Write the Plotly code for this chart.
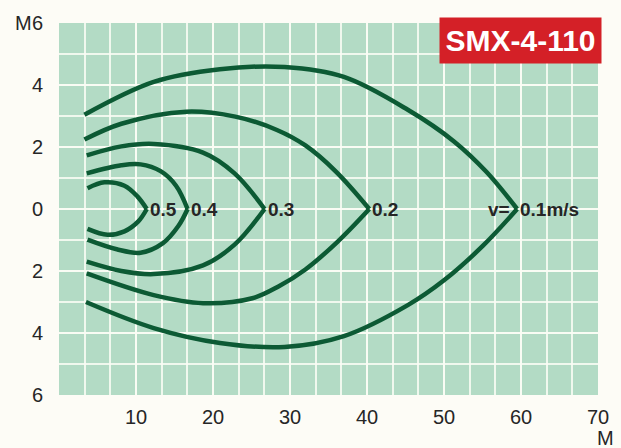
import plotly.graph_objects as go

# Throw-pattern envelopes for SMX-4-110: terminal air velocity contours (m/s)
velocities = ["0.1", "0.2", "0.3", "0.4", "0.5"]

# upper halves (distance M, lateral spread M)
upper_x = {
    "0.1": [3.3, 12.3, 20.9, 29.3, 37.0, 45.3, 51.3, 55.5, 59.5],
    "0.2": [3.3, 8.1, 16.5, 22.9, 28.3, 32.0, 36.0, 40.3],
    "0.3": [3.6, 8.1, 12.3, 18.7, 22.8, 26.7],
    "0.4": [3.6, 8.1, 10.6, 13.2, 15.2, 16.7],
    "0.5": [3.7, 5.9, 8.5, 10.2, 11.4],
}
upper_y = {
    "0.1": [3.04, 4.10, 4.51, 4.58, 4.26, 3.20, 2.18, 1.20, 0.0],
    "0.2": [2.24, 2.75, 3.14, 2.98, 2.55, 2.05, 1.20, 0.0],
    "0.3": [1.73, 2.02, 2.10, 1.82, 1.15, 0.0],
    "0.4": [1.15, 1.41, 1.44, 1.22, 0.75, 0.0],
    "0.5": [0.67, 0.86, 0.75, 0.40, 0.0],
}
# lower halves
lower_x = {
    "0.1": [3.5, 12.3, 20.9, 29.3, 37.0, 45.3, 50.0, 55.0, 59.5],
    "0.2": [3.6, 12.3, 18.7, 25.1, 28.5, 32.0, 36.2, 40.3],
    "0.3": [3.6, 8.1, 12.3, 18.7, 22.8, 26.7],
    "0.4": [3.7, 7.5, 10.6, 13.5, 15.5, 16.7],
    "0.5": [3.7, 6.3, 8.5, 10.3, 11.4],
}
lower_y = {
    "0.1": [-3.00, -3.84, -4.32, -4.45, -4.10, -3.10, -2.30, -1.20, 0.0],
    "0.2": [-2.08, -2.78, -3.04, -2.88, -2.50, -1.95, -1.05, 0.0],
    "0.3": [-1.70, -2.00, -2.10, -1.82, -1.15, 0.0],
    "0.4": [-0.99, -1.30, -1.41, -1.10, -0.55, 0.0],
    "0.5": [-0.64, -0.83, -0.72, -0.40, 0.0],
}

x_ticks = [10, 20, 30, 40, 50, 60, 70]
y_ticks = [-6, -4, -2, 0, 2, 4, 6]
y_tick_text = ["6", "4", "2", "0", "2", "4", "6"]

CURVE = "#0c5a34"
TEXT = "#262626"
FONT = "Liberation Sans, Arial, sans-serif"

fig = go.Figure()
for v in velocities:
    for xs, ys in ((upper_x[v], upper_y[v]), (lower_x[v], lower_y[v])):
        fig.add_trace(go.Scatter(
            x=xs, y=ys, mode="lines",
            line=dict(color=CURVE, width=4.5, shape="spline", smoothing=1.0),
            hoverinfo="skip", showlegend=False,
        ))

# velocity labels at each tip
for v in velocities:
    tip = upper_x[v][-1]
    text = v + "m/s" if v == "0.1" else v
    fig.add_annotation(x=tip, y=0, text="<b>" + text + "</b>", showarrow=False,
                       xanchor="left", yanchor="middle", xshift=1,
                       font=dict(family=FONT, size=19, color=TEXT))
fig.add_annotation(x=upper_x["0.1"][-1], y=0, text="<b>v=</b>", showarrow=False,
                   xanchor="right", yanchor="middle", xshift=-5,
                   font=dict(family=FONT, size=19, color=TEXT))

# model badge
fig.add_annotation(xref="paper", yref="paper", x=0.856, y=0.953,
                   text="<b>SMX-4-110</b>", showarrow=False,
                   xanchor="center", yanchor="middle",
                   width=161, height=45, borderpad=0,
                   bgcolor="#d42027",
                   font=dict(family=FONT, size=30, color="white"))

# unit labels
fig.add_annotation(xref="paper", yref="paper", x=-0.058, y=1.0, text="M",
                   showarrow=False, xanchor="right", yanchor="middle", xshift=6,
                   font=dict(family=FONT, size=20, color=TEXT))
fig.add_annotation(xref="paper", yref="paper", x=1.007, y=-0.115, text="M",
                   showarrow=False, xanchor="center", yanchor="middle", xshift=4,
                   font=dict(family=FONT, size=20, color=TEXT))

GRID = "rgba(250,253,245,0.85)"
fig.update_layout(
    width=621, height=448,
    margin=dict(l=59, r=18, t=20, b=53),
    paper_bgcolor="#fdfcf6",
    plot_bgcolor="#b3dbc5",
    font=dict(family=FONT, size=20, color=TEXT),
    xaxis=dict(
        range=[0, 70], tickvals=x_ticks, ticktext=[str(t) for t in x_ticks],
        tickfont=dict(size=20),
        showgrid=True, gridcolor=GRID, gridwidth=1.5,
        minor=dict(tick0=0, dtick=10 / 3, showgrid=True, gridcolor=GRID, gridwidth=1.5),
        zeroline=False, showline=False, ticks="", ticklabelstandoff=8,
        fixedrange=True,
    ),
    yaxis=dict(
        range=[-6, 6], tickvals=y_ticks, ticktext=y_tick_text,
        tickfont=dict(size=20),
        showgrid=True, gridcolor=GRID, gridwidth=1.5,
        minor=dict(tick0=0, dtick=1, showgrid=True, gridcolor=GRID, gridwidth=1.5),
        zeroline=False, showline=False, ticks="", ticklabelstandoff=15,
        fixedrange=True,
    ),
)

fig.write_html("out.html")
